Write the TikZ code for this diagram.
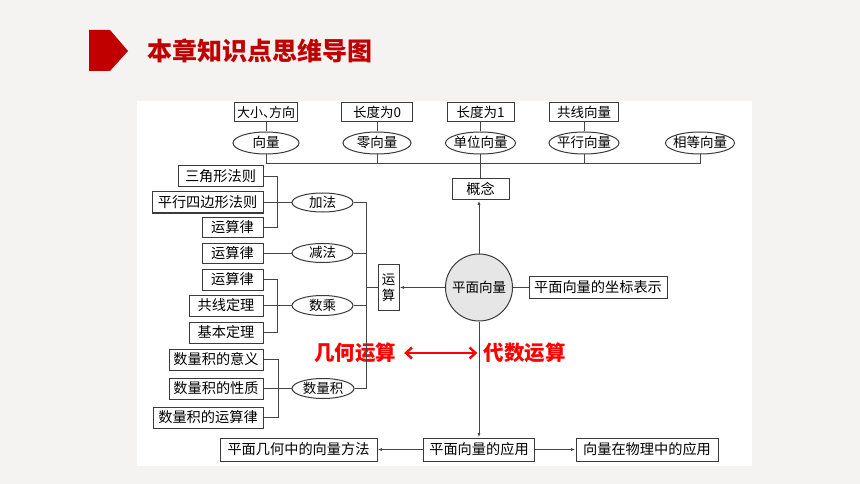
\documentclass[tikz,border=0pt]{standalone}
\usepackage{fontspec}
\newfontfamily\cjk{Noto Sans CJK SC}
\usetikzlibrary{arrows.meta,shapes.geometric}
\definecolor{bg}{HTML}{F4F3F1}
\definecolor{titlered}{HTML}{C00000}
\definecolor{ln}{HTML}{454545}
\definecolor{bd}{HTML}{3A3A3A}
\definecolor{cfill}{HTML}{E6E6E6}
\newcommand{\ct}[1]{\makebox[0pt]{#1}}
\begin{document}
\begin{tikzpicture}[x=1pt,y=-1pt,
  bx/.style={draw=bd,line width=1pt,fill=white,inner sep=0pt,text=black,
    font=\cjk\fontsize{14.2}{15}\selectfont},
  el/.style={ellipse,draw=bd,line width=1pt,fill=white,inner sep=0pt,text=black,
    text height=11.5pt,text depth=1.6pt,font=\cjk\fontsize{13.5}{13.5}\selectfont},
  wire/.style={draw=ln,line width=0.9pt},
  arr/.style={wire,-{Latex[length=4.5pt,width=3pt]}},
  redlbl/.style={inner sep=0pt,text=red,font=\cjk\bfseries\fontsize{20.5}{21}\selectfont},
  redarr/.style={draw=red,line width=2.4pt,{Straight Barb[length=6pt,width=11pt]}-{Straight Barb[length=6pt,width=11pt]}}]
\useasboundingbox (0,0) rectangle (860,484);
\fill[bg] (0,0) rectangle (860,484);
% title
\fill[titlered] (89,30) -- (110,30) -- (128,51) -- (110,71) -- (89,71) -- cycle;
\node[anchor=west,inner sep=0pt,text=titlered,font=\cjk\bfseries\fontsize{25}{25}\selectfont] (title) at (147,51) {本章知识点思维导图};
% panel
\fill[white] (137,101) rectangle (752,466);

% top boxes
\node[bx,minimum width=63pt,minimum height=19pt,font=\cjk\fontsize{13}{13}\selectfont] (t1) at (266,112.5) {大小\makebox[6pt][l]{、}方向};
\node[bx,minimum width=71pt,minimum height=19pt,font=\cjk\fontsize{13.5}{14}\selectfont] (t2) at (377,112.5) {长度为0};
\node[bx,minimum width=67pt,minimum height=19pt,font=\cjk\fontsize{13.5}{14}\selectfont] (t3) at (480.5,112.5) {长度为1};
\node[bx,minimum width=69pt,minimum height=19pt,font=\cjk\fontsize{13.5}{14}\selectfont] (t4) at (584,112.5) {共线向量};
% top ellipses
\node[el,minimum width=66pt,minimum height=22pt] (v1) at (266,143) {\ct{向量}};
\node[el,minimum width=68pt,minimum height=22pt] (v2) at (377,143) {\ct{零向量}};
\node[el,minimum width=70pt,minimum height=22pt] (v3) at (480.5,143) {\ct{单位向量}};
\node[el,minimum width=70pt,minimum height=22pt] (v4) at (584,143) {\ct{平行向量}};
\node[el,minimum width=69pt,minimum height=22pt] (v5) at (700,143) {\ct{相等向量}};
\coordinate (hb) at (0,163);
\node[bx,minimum width=57pt,minimum height=21pt] (gn) at (480.5,189.5) {概念};

% centre
\node[circle,draw=bd,line width=1pt,fill=cfill,minimum size=67pt,inner sep=0pt,
  font=\cjk\fontsize{13.5}{13.5}\selectfont] (c) at (479,287.5) {平面向量};
\node[bx,minimum width=138pt,minimum height=22pt] (zb) at (598,287.5) {平面向量的坐标表示};
\node[bx,minimum width=21pt,minimum height=46pt,align=center,font=\cjk\fontsize{13.5}{16.5}\selectfont] (ys) at (388.5,287.5) {运\\算};

% left groups
\node[bx,minimum width=85pt,minimum height=21pt] (a1) at (220.5,176.5) {三角形法则};
\node[bx,minimum width=111pt,minimum height=21pt] (a2) at (207.5,202.5) {平行四边形法则};
\node[bx,minimum width=61pt,minimum height=20pt] (a3) at (232.5,227) {运算律};
\node[el,minimum width=61pt,minimum height=19pt] (jf) at (322.5,202.5) {\ct{加法}};

\node[bx,minimum width=61pt,minimum height=20pt] (b1) at (232.5,253) {运算律};
\node[el,minimum width=61pt,minimum height=19pt] (jian) at (322.5,253) {\ct{减法}};

\node[bx,minimum width=61pt,minimum height=21pt] (c1) at (232.5,279.5) {运算律};
\node[bx,minimum width=74pt,minimum height=21pt] (c2) at (226,305.5) {共线定理};
\node[bx,minimum width=74pt,minimum height=21pt] (c3) at (226,332.5) {基本定理};
\node[el,minimum width=61pt,minimum height=20pt] (sc) at (322.5,305.5) {\ct{数乘}};

\node[bx,minimum width=94pt,minimum height=21pt] (d1) at (216,359.5) {数量积的意义};
\node[bx,minimum width=94pt,minimum height=21pt] (d2) at (216,388.5) {数量积的性质};
\node[bx,minimum width=110pt,minimum height=21pt] (d3) at (208,417.5) {数量积的运算律};
\node[el,minimum width=62pt,minimum height=20pt] (sl) at (323,388.5) {\ct{数量积}};

% bottom
\node[bx,minimum width=157pt,minimum height=23pt] (p1) at (298.5,449.5) {平面几何中的向量方法};
\node[bx,minimum width=111pt,minimum height=23pt] (ap) at (479,449.5) {平面向量的应用};
\node[bx,minimum width=142pt,minimum height=23pt] (p3) at (647,449.5) {向量在物理中的应用};

% red labels
\node[redlbl] (geo) at (355,353) {几何运算};
\node[redlbl] (alg) at (524.5,353) {代数运算};
\draw[redarr] ([xshift=8pt]geo.east) -- ([xshift=-6pt]alg.west);

% top connectors
\draw[wire] (t1.south) -- (v1.north);
\draw[wire] (t2.south) -- (v2.north);
\draw[wire] (t3.south) -- (v3.north);
\draw[wire] (t4.south) -- (v4.north);
\draw[wire] (v1.south) -- (v1.south |- hb) -- (v5.south |- hb) -- (v5.south);
\draw[wire] (v2.south) -- (v2.south |- hb);
\draw[wire] (v3.south) -- (gn.north);
\draw[wire] (v4.south) -- (v4.south |- hb);
\draw[arr] (c.north) -- (c.north |- gn.south);
\draw[wire] (c.east) -- (zb.west);
\draw[arr] (c.west) -- (ys.east);
\draw[arr] (c.south) -- (c.south |- ap.north);
\draw[arr] (ap.west) -- (p1.east);
\draw[arr] (ap.east) -- (p3.west);

% left bus
\coordinate (lb) at (366,0);
\draw[wire] (jf.east) -- (jf.east -| lb) -- (sl.east -| lb) -- (sl.east);
\draw[wire] (jian.east) -- (jian.east -| lb);
\draw[wire] (sc.east) -- (sc.east -| lb);
\draw[wire] (ys.west) -- (ys.west -| lb);

% brackets
\coordinate (bk) at (277,0);
\draw[wire] (a1.east) -- (a1.east -| bk) -- (a3.east -| bk) -- (a3.east);
\draw[wire] (a2.east) -- (jf.west);
\draw[wire] (b1.east) -- (jian.west);
\draw[wire] (c1.east) -- (c1.east -| bk) -- (c3.east -| bk) -- (c3.east);
\draw[wire] (c2.east) -- (sc.west);
\coordinate (bk2) at (278,0);
\draw[wire] (d1.east) -- (d1.east -| bk2) -- (d3.east -| bk2) -- (d3.east);
\draw[wire] (d2.east) -- (sl.west);
\end{tikzpicture}
\end{document}
